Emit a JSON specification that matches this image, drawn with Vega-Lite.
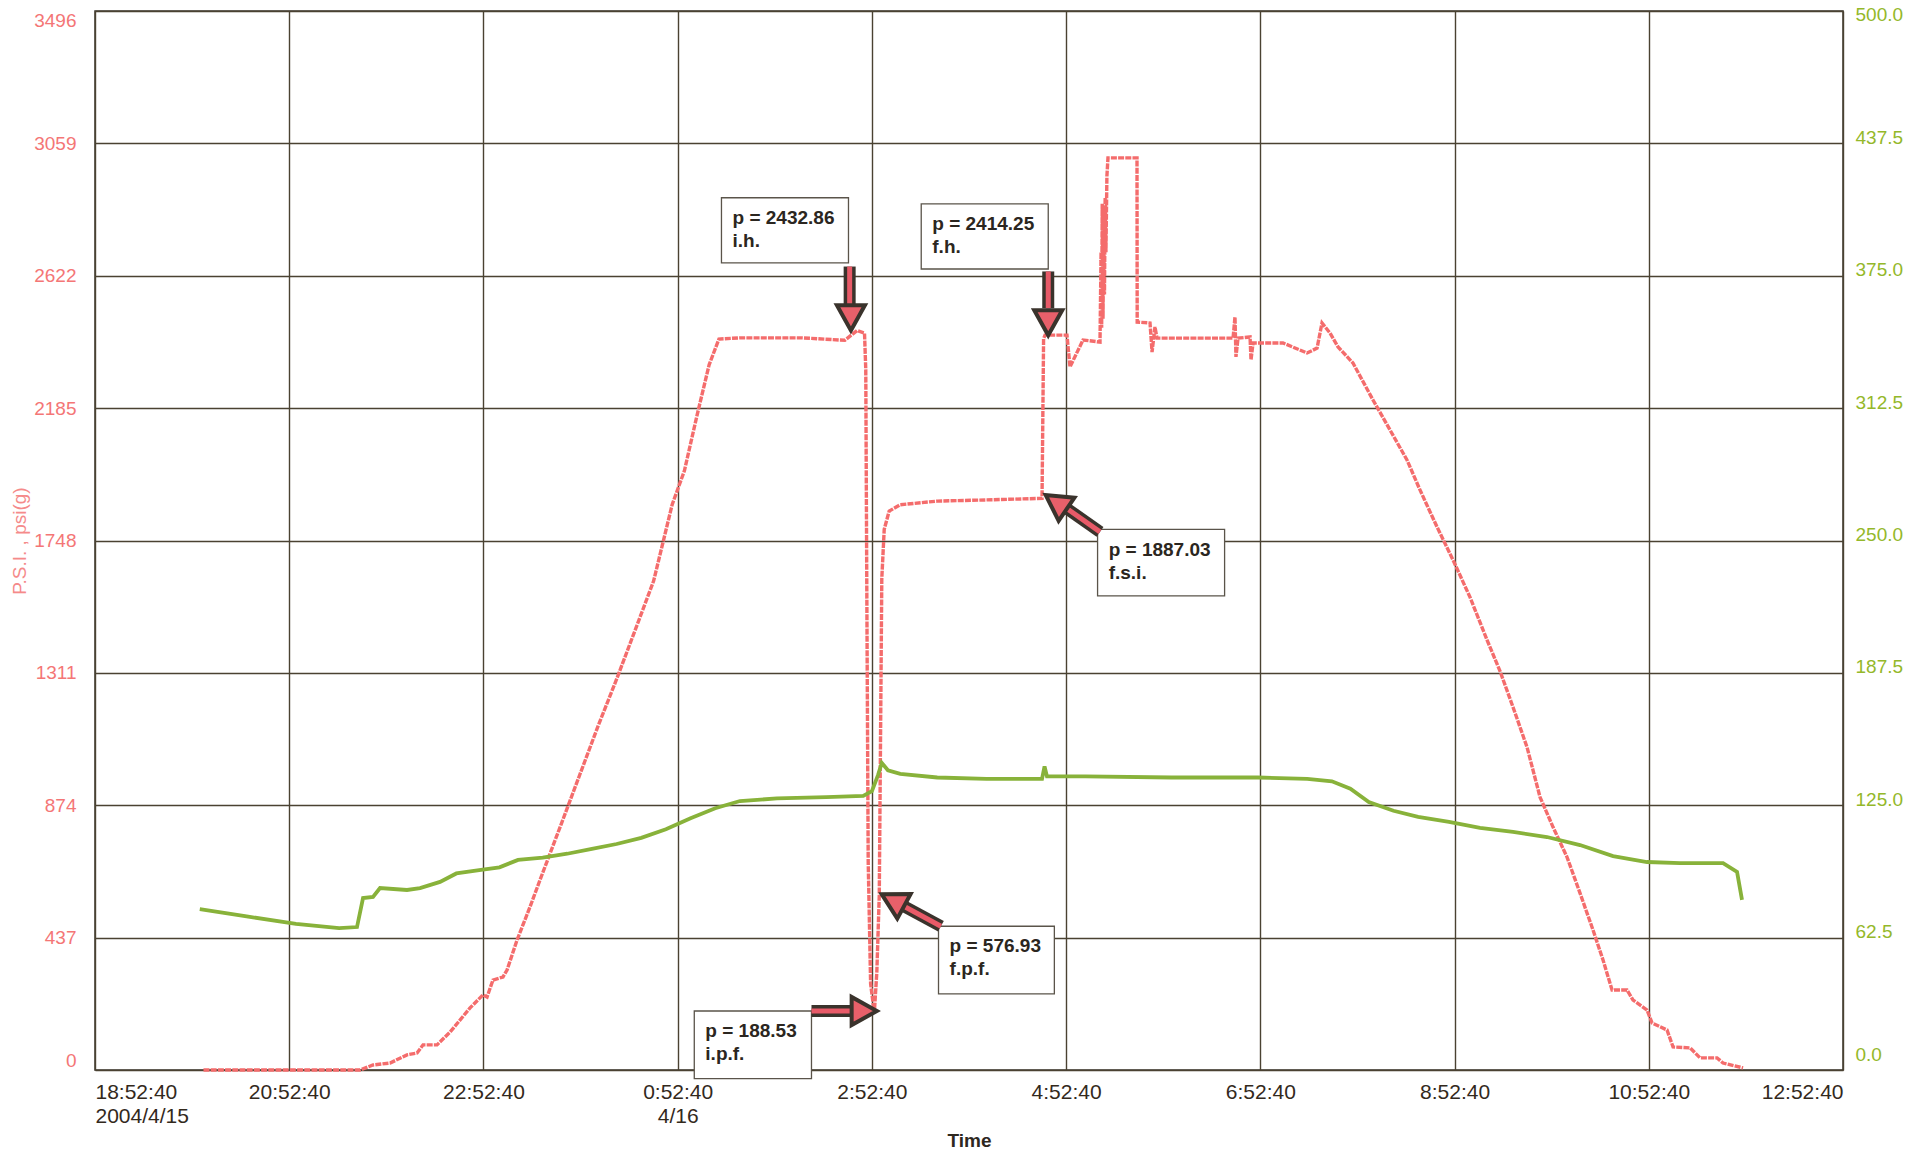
{
  "$schema": "https://vega.github.io/schema/vega-lite/v6.json",
  "autosize": {"type": "none"},
  "padding": {"left": 95, "top": 11, "right": 86, "bottom": 84},
  "width": 1748,
  "height": 1059,
  "background": "#ffffff",
  "config": {
    "view": {"stroke": "#3a352b", "strokeWidth": 1.5},
    "font": "Liberation Sans",
    "axis": {"gridColor": "#4a4232", "gridWidth": 1.4, "gridOpacity": 1, "domain": false, "ticks": false}
  },
  "datasets": {
    "pressure": [
      {"h":1.117,"psi":0},{"h":2.729,"psi":0},{"h":2.863,"psi":16.5},{"h":3.038,"psi":23},{"h":3.213,"psi":50},{"h":3.316,"psi":56},{"h":3.378,"psi":83},{"h":3.522,"psi":83},{"h":3.656,"psi":125},{"h":3.862,"psi":205},{"h":3.995,"psi":248},{"h":4.037,"psi":241},{"h":4.098,"psi":297},{"h":4.201,"psi":307},{"h":4.243,"psi":330},{"h":4.346,"psi":429},{"h":4.479,"psi":538},{"h":4.582,"psi":627},{"h":4.800,"psi":811},{"h":4.990,"psi":973},{"h":5.181,"psi":1136},{"h":5.371,"psi":1290},{"h":5.562,"psi":1452},{"h":5.752,"psi":1614},{"h":5.943,"psi":1866},{"h":6.070,"psi":1979},{"h":6.197,"psi":2158},{"h":6.324,"psi":2328},{"h":6.425,"psi":2413},{"h":6.641,"psi":2417},{"h":7.276,"psi":2417},{"h":7.721,"psi":2409},{"h":7.784,"psi":2425},{"h":7.848,"psi":2441},{"h":7.924,"psi":2433},{"h":7.937,"psi":2312},{"h":7.949,"psi":1501},{"h":7.962,"psi":689},{"h":7.987,"psi":284},{"h":8.025,"psi":188.53},{"h":8.051,"psi":324},{"h":8.076,"psi":576.93},{"h":8.089,"psi":1095},{"h":8.102,"psi":1622},{"h":8.127,"psi":1785},{"h":8.178,"psi":1845},{"h":8.292,"psi":1866},{"h":8.673,"psi":1878},{"h":9.181,"psi":1882},{"h":9.752,"psi":1887.03},{"h":9.765,"psi":2312},{"h":9.768,"psi":2414},{"h":9.783,"psi":2426},{"h":10.009,"psi":2426},{"h":10.040,"psi":2321},{"h":10.174,"psi":2410},{"h":10.349,"psi":2403},{"h":10.360,"psi":2700},{"h":10.366,"psi":2450},{"h":10.372,"psi":2860},{"h":10.380,"psi":2480},{"h":10.388,"psi":2850},{"h":10.395,"psi":2560},{"h":10.402,"psi":2880},{"h":10.410,"psi":2700},{"h":10.420,"psi":2950},{"h":10.431,"psi":3011},{"h":10.730,"psi":3011},{"h":10.732,"psi":2469},{"h":10.864,"psi":2466},{"h":10.885,"psi":2370},{"h":10.915,"psi":2453},{"h":10.936,"psi":2416},{"h":11.719,"psi":2416},{"h":11.739,"psi":2486},{"h":11.749,"psi":2354},{"h":11.770,"psi":2416},{"h":11.894,"psi":2420},{"h":11.904,"psi":2344},{"h":11.925,"psi":2400},{"h":12.234,"psi":2400},{"h":12.481,"psi":2367},{"h":12.584,"psi":2383},{"h":12.635,"psi":2466},{"h":12.717,"psi":2433},{"h":12.800,"psi":2387},{"h":12.954,"psi":2334},{"h":13.160,"psi":2212},{"h":13.335,"psi":2113},{"h":13.510,"psi":2014},{"h":13.644,"psi":1915},{"h":13.819,"psi":1793},{"h":13.984,"psi":1684},{"h":14.159,"psi":1561},{"h":14.334,"psi":1420},{"h":14.468,"psi":1317},{"h":14.602,"psi":1198},{"h":14.746,"psi":1066},{"h":14.880,"psi":901},{"h":15.014,"psi":802},{"h":15.158,"psi":703},{"h":15.292,"psi":584},{"h":15.426,"psi":462},{"h":15.529,"psi":363},{"h":15.622,"psi":264},{"h":15.776,"psi":264},{"h":15.838,"psi":231},{"h":15.982,"psi":198},{"h":16.034,"psi":155},{"h":16.188,"psi":132},{"h":16.250,"psi":76},{"h":16.425,"psi":73},{"h":16.528,"psi":40},{"h":16.703,"psi":40},{"h":16.765,"psi":23},{"h":16.971,"psi":7}
    ],
    "temp": [
      {"h":1.079,"t":76.0},{"h":1.562,"t":72.5},{"h":2.070,"t":69.0},{"h":2.514,"t":67.0},{"h":2.698,"t":67.5},{"h":2.760,"t":81.2},{"h":2.863,"t":81.7},{"h":2.935,"t":85.9},{"h":3.213,"t":85.0},{"h":3.347,"t":85.9},{"h":3.553,"t":88.8},{"h":3.721,"t":92.8},{"h":3.975,"t":94.5},{"h":4.165,"t":95.7},{"h":4.356,"t":99.2},{"h":4.610,"t":100.3},{"h":4.863,"t":102.1},{"h":5.117,"t":104.4},{"h":5.371,"t":106.7},{"h":5.625,"t":109.6},{"h":5.879,"t":113.7},{"h":6.133,"t":118.9},{"h":6.387,"t":123.6},{"h":6.641,"t":127.0},{"h":7.022,"t":128.2},{"h":7.530,"t":128.8},{"h":7.911,"t":129.4},{"h":8.000,"t":131.7},{"h":8.063,"t":139.2},{"h":8.102,"t":145.0},{"h":8.165,"t":141.5},{"h":8.292,"t":139.8},{"h":8.673,"t":138.1},{"h":9.181,"t":137.5},{"h":9.752,"t":137.5},{"h":9.778,"t":143.3},{"h":9.803,"t":138.6},{"h":10.197,"t":138.6},{"h":11.086,"t":138.1},{"h":11.975,"t":138.1},{"h":12.483,"t":137.5},{"h":12.737,"t":136.3},{"h":12.927,"t":132.8},{"h":13.117,"t":126.5},{"h":13.371,"t":122.4},{"h":13.625,"t":119.5},{"h":13.943,"t":117.2},{"h":14.262,"t":114.3},{"h":14.602,"t":112.4},{"h":14.952,"t":110.0},{"h":15.292,"t":106.2},{"h":15.632,"t":101.0},{"h":15.982,"t":98.2},{"h":16.322,"t":97.7},{"h":16.765,"t":97.7},{"h":16.909,"t":93.5},{"h":16.960,"t":80.3}
    ],
    "boxes": [
      {"label":"p = 2432.86\ni.h.","bx1":6.451,"bx2":7.759,"by1":2879.5,"by2":2664.6,"tx":6.565,"ty":2843.0},
      {"label":"p = 2414.25\nf.h.","bx1":8.508,"bx2":9.816,"by1":2859.3,"by2":2644.3,"tx":8.622,"ty":2822.8},
      {"label":"p = 1887.03\nf.s.i.","bx1":10.324,"bx2":11.632,"by1":1784.5,"by2":1565.5,"tx":10.438,"ty":1748.0},
      {"label":"p = 576.93\nf.p.f.","bx1":8.686,"bx2":9.879,"by1":474.5,"by2":251.5,"tx":8.800,"ty":438.0},
      {"label":"p = 188.53\ni.p.f.","bx1":6.171,"bx2":7.378,"by1":194.7,"by2":-28.4,"tx":6.285,"ty":158.2}
    ],
    "arrows": [
      {"h1":7.771,"p1":2652.4,"h2":7.771,"p2":2522.6,"ht":7.784,"pt":2441.5,"ang":180},
      {"h1":9.816,"p1":2636.2,"h2":9.816,"p2":2514.5,"ht":9.816,"pt":2425.3,"ang":180},
      {"h1":10.349,"p1":1776.4,"h2":10.004,"p2":1854.3,"ht":9.790,"pt":1898.1,"ang":304.3},
      {"h1":8.711,"p1":474.5,"h2":8.325,"p2":541.4,"ht":8.102,"pt":580.0,"ang":298.4},
      {"h1":7.378,"p1":194.7,"h2":7.797,"p2":194.7,"ht":8.051,"pt":194.7,"ang":90}
    ]
  },
  "layer": [
    {
      "layer": [
        {
          "data": {"name": "pressure"},
          "mark": {"type": "line", "color": "#f46c6c", "strokeWidth": 3.4, "strokeDash": [6, 1.2]},
          "encoding": {
            "x": {"field": "h", "type": "quantitative",
              "scale": {"domain": [0, 18], "nice": false, "zero": false},
              "axis": {"title": "Time", "values": [0,2,4,6,8,10,12,14,16,18],
                "labelExpr": "datum.value == 0 ? ['18:52:40', '2004/4/15'] : datum.value == 6 ? ['0:52:40', '4/16'] : ((datum.value + 18) % 24) + ':52:40'",
                "labelFlush": true, "labelFont": "Liberation Sans Narrow, Liberation Sans", "labelFontSize": 21, "labelColor": "#33291c", "labelLineHeight": 24, "labelPadding": 11,
                "grid": true, "titleFont": "Liberation Sans", "titleFontSize": 19, "titleFontWeight": "bold", "titleColor": "#2e281f", "titlePadding": 5}},
            "y": {"field": "psi", "type": "quantitative",
              "scale": {"domain": [0, 3496], "nice": false, "zero": false},
              "axis": {"orient": "left", "title": "P.S.I. , psi(g)", "values": [0,437,874,1311,1748,2185,2622,3059,3496], "format": "d",
                "labelColor": "#f47676", "labelFontSize": 19, "labelPadding": 19, "labelFlush": true, "grid": true,
                "titleColor": "#f58a8a", "titleFontSize": 19, "titleFontWeight": "normal", "titlePadding": 4}},
            "order": {"value": null}
          }
        },
        {
          "data": {"name": "boxes"},
          "mark": {"type": "rect", "fill": "#ffffff", "stroke": "#5a544a", "strokeWidth": 1.3},
          "encoding": {
            "x": {"field": "bx1", "type": "quantitative", "scale": {"domain": [0, 18], "nice": false, "zero": false}, "title": "Time"},
            "x2": {"field": "bx2"},
            "y": {"field": "by1", "type": "quantitative", "scale": {"domain": [0, 3496], "nice": false, "zero": false}, "title": "P.S.I. , psi(g)"},
            "y2": {"field": "by2"}
          }
        },
        {
          "data": {"name": "boxes"},
          "mark": {"type": "text", "align": "left", "baseline": "top", "lineBreak": "\n", "fontSize": 19, "fontWeight": "bold", "color": "#2b2620", "lineHeight": 23},
          "encoding": {
            "x": {"field": "tx", "type": "quantitative", "scale": {"domain": [0, 18], "nice": false, "zero": false}, "title": "Time"},
            "y": {"field": "ty", "type": "quantitative", "scale": {"domain": [0, 3496], "nice": false, "zero": false}, "title": "P.S.I. , psi(g)"},
            "text": {"field": "label"}
          }
        },
        {
          "data": {"name": "arrows"},
          "mark": {"type": "rule", "color": "#3a332c", "strokeWidth": 12, "strokeCap": "butt"},
          "encoding": {
            "x": {"field": "h1", "type": "quantitative", "scale": {"domain": [0, 18], "nice": false, "zero": false}, "title": "Time"},
            "y": {"field": "p1", "type": "quantitative", "scale": {"domain": [0, 3496], "nice": false, "zero": false}, "title": "P.S.I. , psi(g)"},
            "x2": {"field": "h2"},
            "y2": {"field": "p2"}
          }
        },
        {
          "data": {"name": "arrows"},
          "mark": {"type": "rule", "color": "#e85a68", "strokeWidth": 5, "strokeCap": "butt"},
          "encoding": {
            "x": {"field": "h1", "type": "quantitative", "scale": {"domain": [0, 18], "nice": false, "zero": false}, "title": "Time"},
            "y": {"field": "p1", "type": "quantitative", "scale": {"domain": [0, 3496], "nice": false, "zero": false}, "title": "P.S.I. , psi(g)"},
            "x2": {"field": "h2"},
            "y2": {"field": "p2"}
          }
        },
        {
          "data": {"name": "arrows"},
          "mark": {"type": "point", "shape": "M0,0L-1,1.8L1,1.8Z", "filled": true, "fill": "#e8606a", "stroke": "#3a332c", "strokeWidth": 4, "size": 784, "opacity": 1},
          "encoding": {
            "x": {"field": "ht", "type": "quantitative", "scale": {"domain": [0, 18], "nice": false, "zero": false}, "title": "Time"},
            "y": {"field": "pt", "type": "quantitative", "scale": {"domain": [0, 3496], "nice": false, "zero": false}, "title": "P.S.I. , psi(g)"},
            "angle": {"field": "ang", "type": "quantitative", "scale": null}
          }
        }
      ]
    },
    {
      "data": {"name": "temp"},
      "mark": {"type": "line", "color": "#88b23a", "strokeWidth": 3.8},
      "encoding": {
        "x": {"field": "h", "type": "quantitative", "scale": {"domain": [0, 18], "nice": false, "zero": false}, "title": "Time"},
        "y": {"field": "t", "type": "quantitative",
          "scale": {"domain": [0, 500], "nice": false, "zero": false},
          "axis": {"orient": "right", "title": null, "values": [0,62.5,125,187.5,250,312.5,375,437.5,500], "format": ".1f",
            "labelColor": "#94b82a", "labelFontSize": 19, "labelPadding": 12, "labelOffset": -6, "labelFlush": true, "grid": false}},
        "order": {"value": null}
      }
    }
  ],
  "resolve": {"scale": {"y": "independent"}}
}
